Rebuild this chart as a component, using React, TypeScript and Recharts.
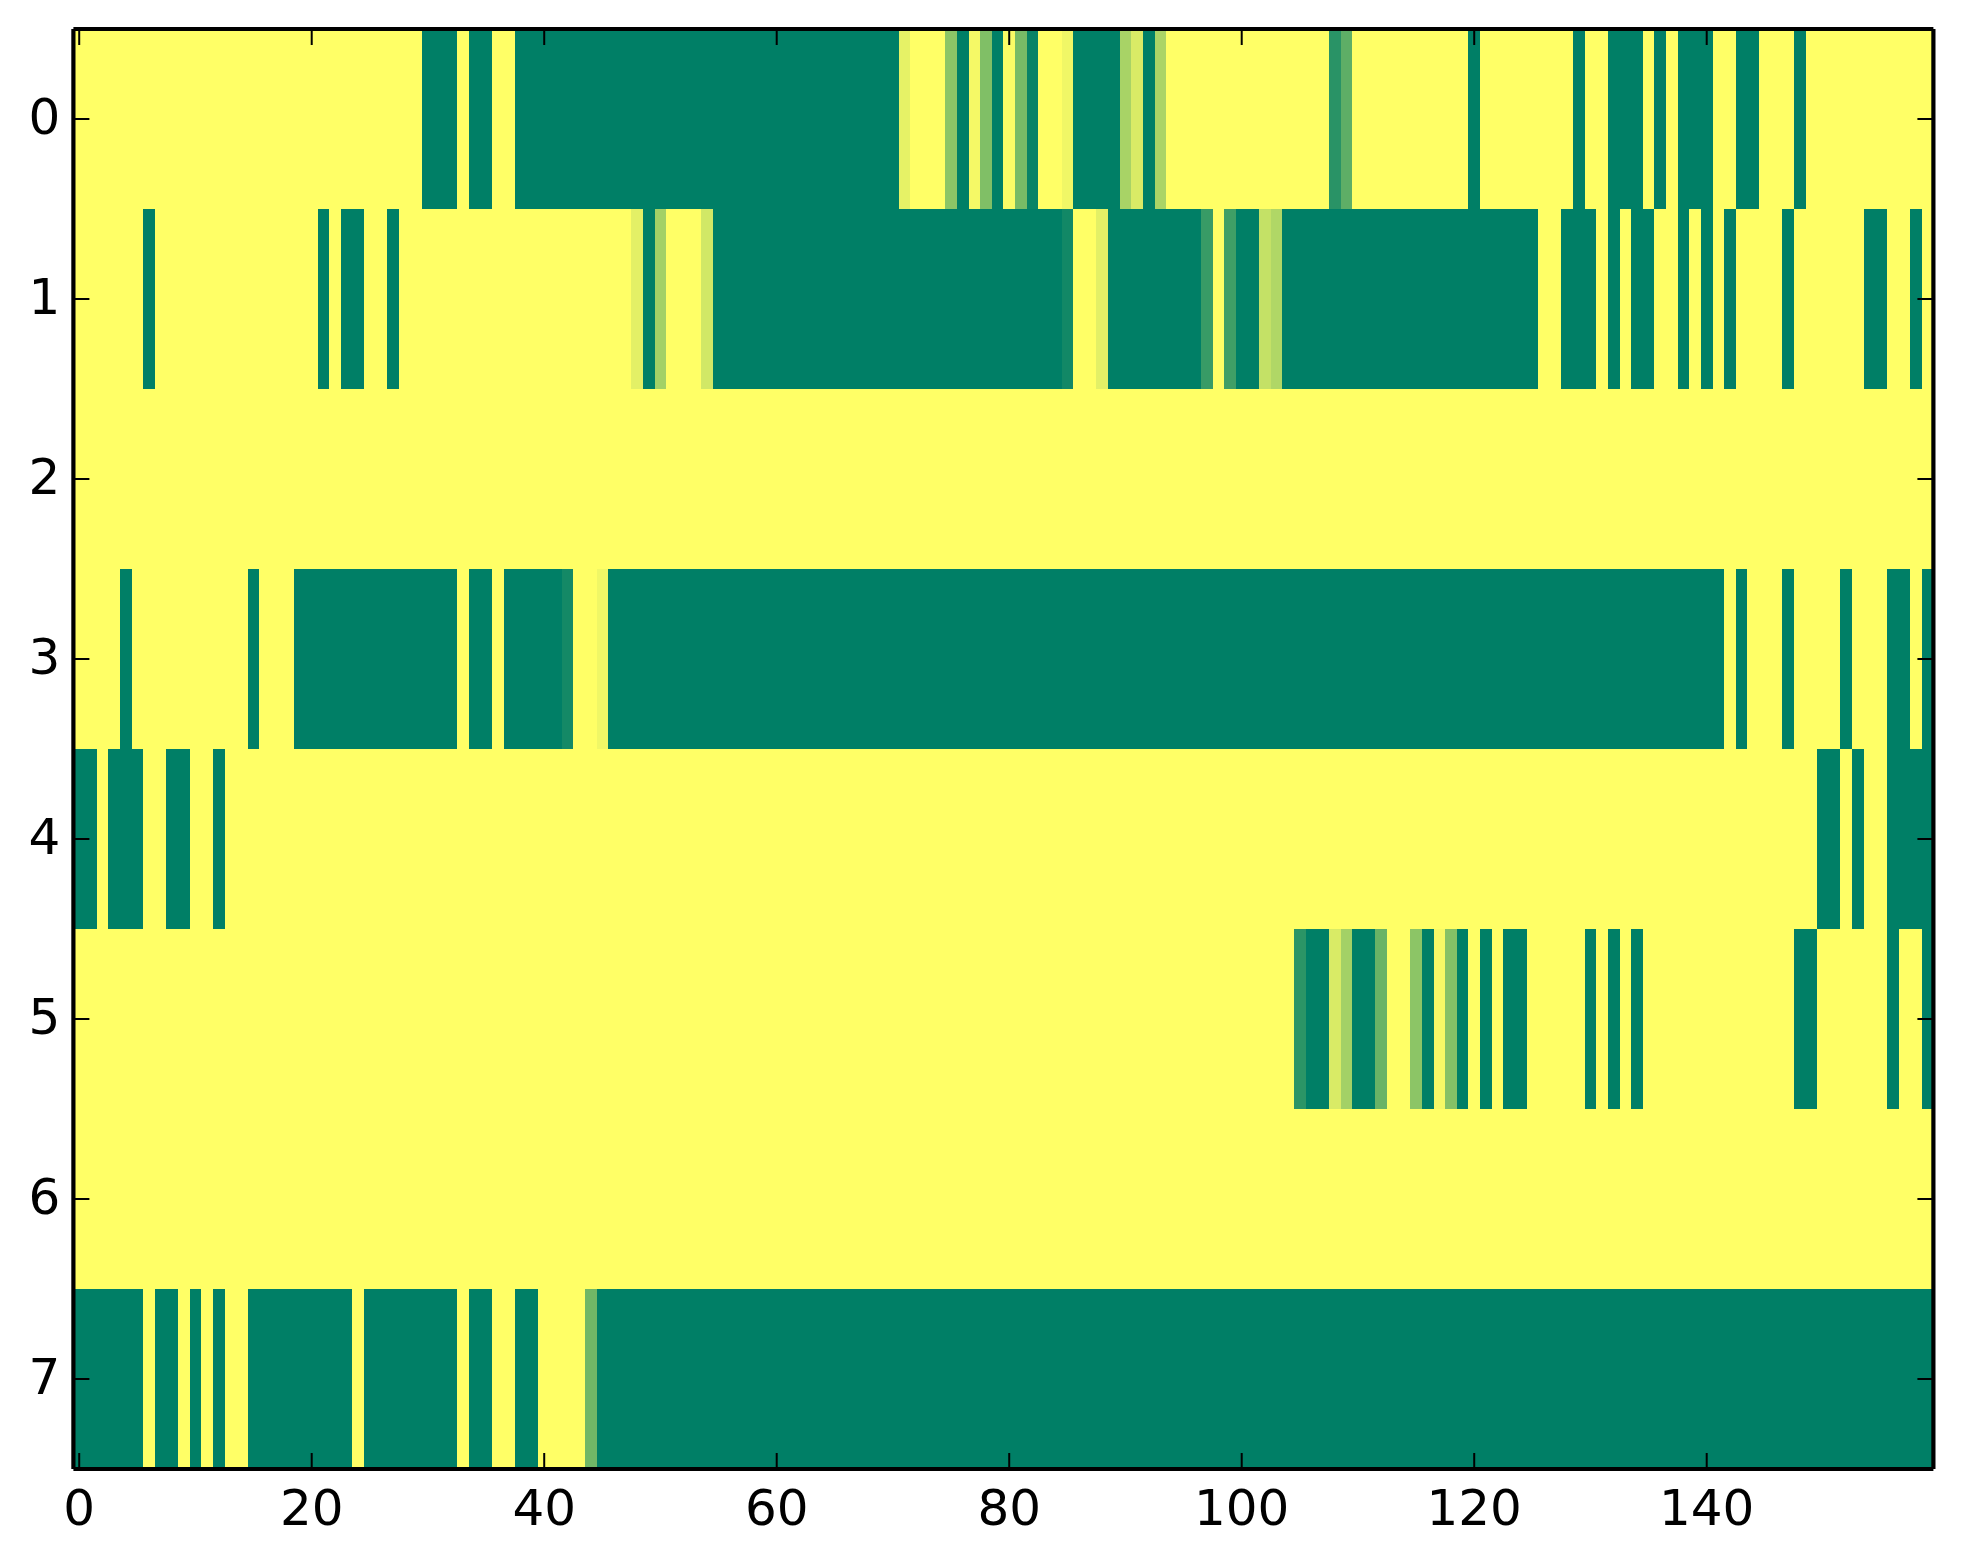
import { Scatter, ScatterChart, XAxis, YAxis } from "recharts";

// [first column, last column, level]; level defaults to 1 (full green)
type Run = [number, number, number?];

const row0: Run[] = [
  [30, 32], [34, 35], [38, 70], [71, 71, 0.1], [75, 75, 0.45], [76, 76], [77, 77, 0.04], [78, 78, 0.5],
  [79, 79], [80, 80, 0.02], [81, 81, 0.53], [82, 82, 0.97], [85, 85, 0.06], [86, 89], [90, 90, 0.34],
  [91, 91, 0.15], [92, 92], [93, 93, 0.33], [108, 108, 0.84], [109, 109, 0.63], [120, 120], [129, 129],
  [132, 134], [136, 136], [138, 140], [143, 144], [148, 148],
];
const row1: Run[] = [
  [6, 6], [21, 21], [23, 24], [27, 27], [48, 48, 0.11], [49, 49], [50, 50, 0.36], [54, 54, 0.18], [55, 84],
  [85, 85, 0.93], [88, 88, 0.11], [89, 96], [97, 97, 0.78], [99, 99, 0.75], [100, 101], [102, 102, 0.23],
  [103, 103, 0.31], [104, 125], [128, 130], [132, 132], [134, 135], [138, 138], [140, 140], [142, 142],
  [147, 147], [154, 155], [158, 158],
];
const row2: Run[] = [];
const row3: Run[] = [
  [4, 4], [15, 15], [19, 32], [34, 35], [37, 41], [42, 42, 0.92], [45, 45, 0.06], [46, 141], [143, 143],
  [147, 147], [152, 152], [156, 157], [159, 159],
];
const row4: Run[] = [[0, 1], [3, 5], [8, 9], [12, 12], [150, 151], [153, 153], [156, 159]];
const row5: Run[] = [
  [105, 105, 0.83], [106, 107], [108, 108, 0.15], [109, 109, 0.36], [110, 111], [112, 112, 0.59],
  [115, 115, 0.45], [116, 116], [117, 117, 0.04], [118, 118, 0.48], [119, 119], [121, 121], [123, 124],
  [130, 130], [132, 132], [134, 134], [148, 149], [156, 156], [159, 159],
];
const row6: Run[] = [];
const row7: Run[] = [
  [0, 5], [7, 8], [10, 10], [12, 12], [15, 23], [25, 32], [34, 35], [38, 39], [44, 44, 0.56], [45, 159],
];

const rows = [row0, row1, row2, row3, row4, row5, row6, row7];
const xTicks = [0, 20, 40, 60, 80, 100, 120, 140];
const yTicks = [0, 1, 2, 3, 4, 5, 6, 7];

const COLS = 160;
const WIDTH = 1963;
const HEIGHT = 1564;
// the axes below take 1px each (a 0px axis is not drawn), so the plot is 1860 x 1440
const MARGIN = { left: 72.4, right: 28.6, top: 28, bottom: 94 };
const CELL_W = 1860 / COLS;
const CELL_H = 1440 / rows.length;
const FONT = "'DejaVu Sans', sans-serif";

// one point per cell; anything not covered by a run stays at level 0
const cells = rows.flatMap((runs, row) => {
  const levels = new Array(COLS).fill(0);
  runs.forEach(([from, to, level = 1]) => {
    for (let c = from; c <= to; c++) levels[c] = level;
  });
  return levels.map((level, col) => ({ col, row, level }));
});

// matplotlib's summer_r
function summerR(level: number) {
  const t = 1 - level;
  return `rgb(${Math.round(255 * t)},${Math.floor(255 * (0.5 + 0.5 * t))},102)`;
}

function CellShape(props: any) {
  const { cx, cy, payload } = props;
  return (
    <rect
      x={cx - CELL_W / 2}
      y={cy - CELL_H / 2}
      width={CELL_W}
      height={CELL_H}
      fill={summerR(payload.level)}
      shapeRendering="crispEdges"
    />
  );
}

const TICK_LEN = 16;

function BottomTick({ x, y, payload }: any) {
  return (
    <g>
      <line x1={x} x2={x} y1={y} y2={y - TICK_LEN} stroke="#000" strokeWidth={2} />
      <text x={x} y={y + 56} textAnchor="middle" fontSize={50} fontFamily={FONT} fill="#000">
        {payload.value}
      </text>
    </g>
  );
}

function TopTick({ x, y }: any) {
  return <line x1={x} x2={x} y1={y} y2={y + TICK_LEN} stroke="#000" strokeWidth={2} />;
}

function LeftTick({ x, y, payload }: any) {
  return (
    <g>
      <line x1={x} x2={x + TICK_LEN} y1={y} y2={y} stroke="#000" strokeWidth={2} />
      <text x={x - 13} y={y + 15} textAnchor="end" fontSize={50} fontFamily={FONT} fill="#000">
        {payload.value}
      </text>
    </g>
  );
}

function RightTick({ x, y }: any) {
  return <line x1={x} x2={x - TICK_LEN} y1={y} y2={y} stroke="#000" strokeWidth={2} />;
}

const spine = { stroke: "#000", strokeWidth: 4.2 };

export default function App() {
  return (
    <div style={{ position: "absolute", left: 0, top: 0, width: WIDTH, height: HEIGHT, background: "#fff" }}>
      <ScatterChart width={WIDTH} height={HEIGHT} margin={MARGIN}>
        {/* zIndex keeps the cells under the axis lines */}
        <Scatter
          data={cells}
          xAxisId="bottom"
          yAxisId="left"
          shape={<CellShape />}
          isAnimationActive={false}
          zIndex={100}
        />
        <XAxis
          xAxisId="bottom"
          type="number"
          dataKey="col"
          domain={[-0.5, 159.5]}
          ticks={xTicks}
          interval={0}
          orientation="bottom"
          height={1}
          tickSize={0}
          tickMargin={0}
          tickLine={false}
          axisLine={spine}
          tick={<BottomTick />}
          allowDataOverflow
        />
        <XAxis
          xAxisId="top"
          type="number"
          dataKey="col"
          domain={[-0.5, 159.5]}
          ticks={xTicks}
          interval={0}
          orientation="top"
          height={1}
          tickSize={0}
          tickMargin={0}
          tickLine={false}
          axisLine={spine}
          tick={<TopTick />}
          allowDataOverflow
        />
        <YAxis
          yAxisId="left"
          type="number"
          dataKey="row"
          domain={[-0.5, 7.5]}
          ticks={yTicks}
          interval={0}
          reversed
          orientation="left"
          width={1}
          tickSize={0}
          tickMargin={0}
          tickLine={false}
          axisLine={spine}
          tick={<LeftTick />}
          allowDataOverflow
        />
        <YAxis
          yAxisId="right"
          type="number"
          dataKey="row"
          domain={[-0.5, 7.5]}
          ticks={yTicks}
          interval={0}
          reversed
          orientation="right"
          width={1}
          tickSize={0}
          tickMargin={0}
          tickLine={false}
          axisLine={spine}
          tick={<RightTick />}
          allowDataOverflow
        />
      </ScatterChart>
    </div>
  );
}
